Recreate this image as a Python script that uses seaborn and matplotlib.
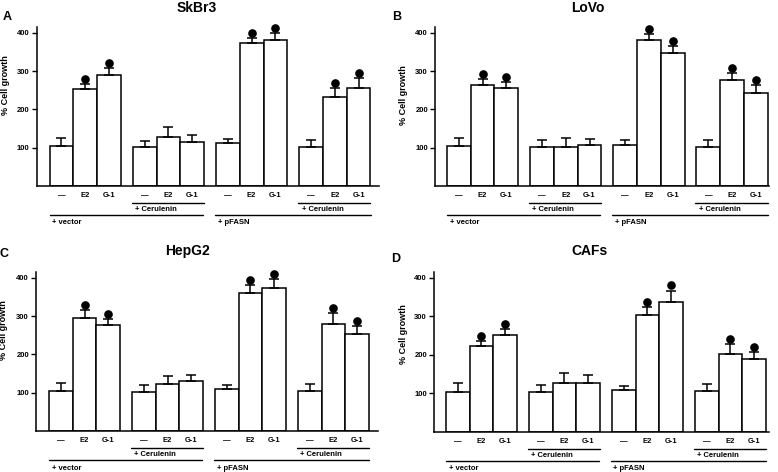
import numpy as np
import pandas as pd
import seaborn as sns
import matplotlib.pyplot as plt
from matplotlib.transforms import blended_transform_factory

# Treatments under each bar, 4 groups of 3
treatments = ["—", "E2", "G-1"]
group_names = ["vector", "vector+Cerulenin", "pFASN", "pFASN+Cerulenin"]

# % cell growth (mean) and upper error
skbr3_mean = [105, 252, 289, 101, 127, 116, 113, 372, 380, 103, 231, 257]
skbr3_err = [20, 13, 18, 17, 26, 16, 9, 14, 20, 17, 24, 24]
lovo_mean = [105, 263, 256, 101, 103, 106, 108, 381, 347, 103, 276, 242]
lovo_err = [20, 16, 16, 18, 22, 16, 11, 16, 18, 18, 18, 22]
hepg2_mean = [105, 296, 276, 102, 123, 130, 109, 359, 373, 104, 278, 254]
hepg2_err = [21, 19, 16, 18, 20, 16, 11, 21, 24, 19, 29, 20]
cafs_mean = [105, 222, 252, 103, 127, 128, 110, 303, 338, 106, 203, 190]
cafs_err = [21, 15, 15, 19, 26, 20, 9, 21, 29, 18, 25, 17]

# black dot = significant vs control
significant = [0, 1, 1, 0, 0, 0, 0, 1, 1, 0, 1, 1]

sns.set_style("ticks")
plt.rcParams["font.family"] = ["Liberation Sans", "DejaVu Sans"]
plt.rcParams["font.weight"] = "bold"
for k in ["text.color", "axes.labelcolor", "xtick.color", "ytick.color"]:
    plt.rcParams[k] = "black"

W, H = 778, 472
fig = plt.figure(figsize=(W / 100, H / 100), dpi=100)

# bar positions: groups separated by half a bar
pos = np.array([g * 3.5 + i for g in range(4) for i in range(3)], dtype=float)

# (letter, title, mean, err, axes box in px [left, right, top, bottom], xlim,
#  title xy, letter xy, ylabel xy)
panels = [
    ("A", "SkBr3", skbr3_mean, skbr3_err, (36.5, 379.5, 27, 186), (-1.05, 13.38),
     (197, 8), (3, 17), (6, 85)),
    ("B", "LoVo", lovo_mean, lovo_err, (435, 769, 27, 186), (-1.0, 13.05),
     (588, 8), (392, 17), (404, 95)),
    ("C", "HepG2", hepg2_mean, hepg2_err, (36, 378, 272, 431), (-1.05, 13.38),
     (187, 251), (0, 254), (4, 330)),
    ("D", "CAFs", cafs_mean, cafs_err, (434, 769, 272, 432), (-1.0, 13.13),
     (589, 251), (391, 259), (404, 334)),
]

for letter, title, mean, err, box, xlim, txy, lxy, yxy in panels:
    l, r, t, b = box
    ax = fig.add_axes([l / W, 1 - b / H, (r - l) / W, (b - t) / H])
    df = pd.DataFrame({"pos": pos, "growth": mean})
    sns.barplot(data=df, x="pos", y="growth", native_scale=True, width=1,
                color="white", saturation=1, edgecolor="black", linewidth=1.1,
                errorbar=None, ax=ax)
    mean = np.array(mean, dtype=float)
    err = np.array(err, dtype=float)
    eb = ax.errorbar(pos, mean, yerr=[np.zeros_like(err), err], fmt="none",
                     ecolor="black", elinewidth=1.1, capsize=3.6, capthick=1.1)
    for art in eb.lines[1] + eb.lines[2]:
        art.set_clip_on(False)
    sig = np.array(significant, dtype=bool)
    ax.plot(pos[sig], mean[sig] + err[sig] + 13, "o", color="black", ms=5.2,
            clip_on=False)

    ax.set_xlim(*xlim)
    ax.set_ylim(0, 415)
    ax.set_yticks([100, 200, 300, 400])
    ax.set_xticks(pos)
    ax.set_xticklabels(treatments * 4)
    ax.set_xlabel("")
    ax.set_ylabel("")
    ax.tick_params(axis="x", length=0, pad=4.3, labelsize=5.5)
    ax.tick_params(axis="y", length=3.5, width=1, pad=1.5, labelsize=5.5)
    sns.despine(ax=ax)
    for s in ["left", "bottom"]:
        ax.spines[s].set_linewidth(1.1)
        ax.spines[s].set_color("black")

    # group brackets under the axis
    hpx = b - t
    tr = blended_transform_factory(ax.transData, ax.transAxes)
    y_cer_line, y_cer_txt = -17 / hpx, -23.5 / hpx
    y_main_line, y_main_txt = -29 / hpx, -37 / hpx
    for g in (1, 3):
        x0, x1 = pos[g * 3] - 0.55, pos[g * 3 + 2] + 0.5
        ax.plot([x0, x1], [y_cer_line] * 2, color="black", lw=1.0,
                transform=tr, clip_on=False)
        ax.text(x0 + 0.15, y_cer_txt, "+ Cerulenin", transform=tr,
                fontsize=5.5, ha="left", va="center")
    for g0, g1, name in ((0, 1, "+ vector"), (2, 3, "+ pFASN")):
        x0 = pos[g0 * 3] - (0.5 if g0 == 0 else 0.55)
        x1 = pos[g1 * 3 + 2] + (0.45 if g0 == 0 else 0.52)
        ax.plot([x0, x1], [y_main_line] * 2, color="black", lw=1.0,
                transform=tr, clip_on=False)
        ax.text(x0 + 0.12, y_main_txt, name, transform=tr,
                fontsize=5.5, ha="left", va="center")

    fig.text(txy[0] / W, 1 - txy[1] / H, title, fontsize=10,
             ha="center", va="center")
    fig.text(lxy[0] / W, 1 - lxy[1] / H, letter, fontsize=9,
             ha="left", va="center")
    fig.text(yxy[0] / W, 1 - yxy[1] / H, "% Cell growth", fontsize=6.5,
             rotation=90, ha="center", va="center")

fig.savefig("out.png", dpi=100)
